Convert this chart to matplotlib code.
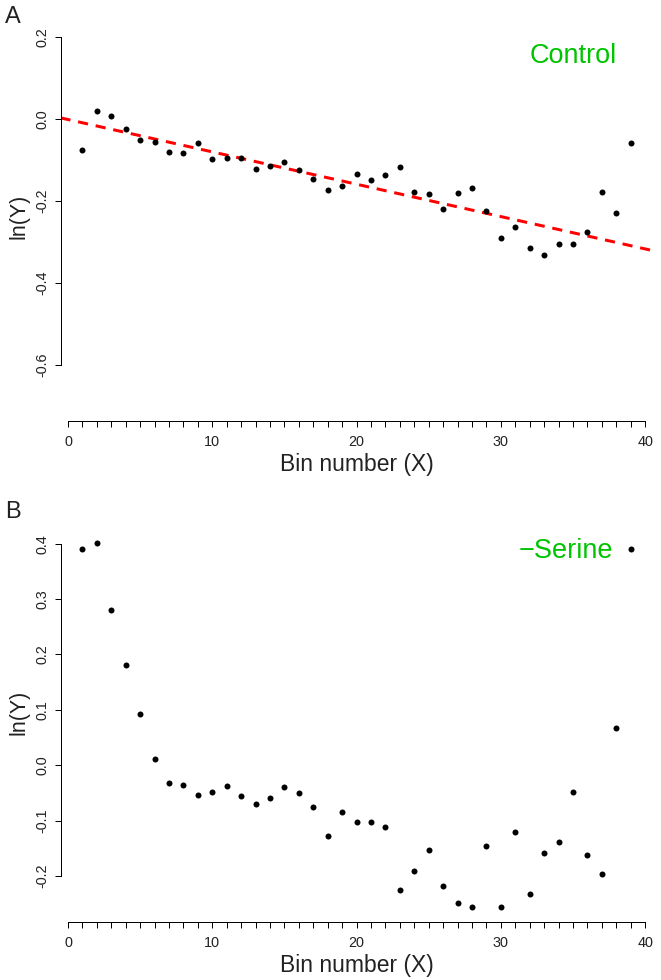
import matplotlib
matplotlib.use('Agg')
import matplotlib.pyplot as plt
from matplotlib.ticker import MultipleLocator, FixedLocator, FuncFormatter
import numpy as np

# ---------------- data ----------------
bins = list(range(1, 40))
control = [-0.075, 0.021, 0.007, -0.024, -0.050, -0.056, -0.079, -0.081, -0.057, -0.096,
           -0.095, -0.094, -0.121, -0.115, -0.104, -0.124, -0.146, -0.172, -0.163, -0.134,
           -0.149, -0.137, -0.116, -0.178, -0.182, -0.220, -0.180, -0.168, -0.225, -0.289,
           -0.262, -0.314, -0.332, -0.305, -0.305, -0.276, -0.178, -0.229, -0.058]
serine = [0.390, 0.402, 0.280, 0.181, 0.093, 0.012, -0.032, -0.036, -0.053, -0.048,
          -0.037, -0.056, -0.070, -0.060, -0.039, -0.050, -0.075, -0.127, -0.084, -0.103,
          -0.102, -0.112, -0.225, -0.191, -0.154, -0.219, -0.249, -0.256, -0.146, -0.256,
          -0.121, -0.232, -0.158, -0.139, -0.048, -0.163, -0.196, 0.067, 0.391]
fit_intercept = -0.0005
fit_slope = -0.0079
x_ticks = [0, 10, 20, 30, 40]
a_yticks = [-0.6, -0.4, -0.2, 0.0, 0.2]
b_yticks = [-0.2, -0.1, 0.0, 0.1, 0.2, 0.3, 0.4]
xlabel = "Bin number (X)"
ylabel = "ln(Y)"

plt.rcParams['font.family'] = ['Liberation Sans', 'DejaVu Sans']

W, H = 661, 980
fig = plt.figure(figsize=(W / 100, H / 100), dpi=100)
PX = 0.72  # points per pixel at 100 dpi


def px_axes(l, r, t, b):
    return fig.add_axes([l / W, 1 - b / H, (r - l) / W, (b - t) / H])


def ftext(x, y, s, **kw):
    fig.text(x / W, 1 - y / H, s, **kw)


green = '#00C400'
fmt = FuncFormatter(lambda v, p: f"{v:.1f}")


def style(ax, yticks, ylim):
    ax.set_xlim(-0.52, 40.52)
    ax.set_ylim(*ylim)
    for s in ['top', 'right']:
        ax.spines[s].set_visible(False)
    for s in ['left', 'bottom']:
        ax.spines[s].set_linewidth(1.0 * PX)
    ax.spines['left'].set_bounds(yticks[0], yticks[-1])
    ax.spines['bottom'].set_bounds(0, 40)
    ax.xaxis.set_major_locator(FixedLocator(x_ticks))
    ax.xaxis.set_minor_locator(MultipleLocator(1))
    ax.yaxis.set_major_locator(FixedLocator(yticks))
    ax.yaxis.set_major_formatter(fmt)
    ax.tick_params(axis='both', which='both', direction='out', length=6 * PX,
                   width=1.0 * PX, color='black', labelsize=10.4, labelcolor='#222222')
    ax.tick_params(axis='x', which='major', pad=8 * PX)
    ax.tick_params(axis='y', which='major', pad=5 * PX, labelrotation=90)
    for lab in ax.get_yticklabels():
        lab.set_va('center')
    ax.patch.set_alpha(0)


# ---------------- panel A ----------------
axA = px_axes(60.5, 652.7, 22.7, 420.7)
style(axA, a_yticks, (-0.736, 0.236))
xs = np.array(axA.get_xlim())
axA.plot(xs, fit_intercept + fit_slope * xs, color='#FF0000', lw=3 * PX,
         dashes=(3.4, 2.6), solid_capstyle='butt', dash_capstyle='butt', zorder=2)
axA.plot(bins, control, 'o', ms=6 * PX, color='black', mec='none', zorder=3)

# ---------------- panel B ----------------
axB = px_axes(60.5, 652.7, 525, 922)
style(axB, b_yticks, (-0.2831, 0.4337))
axB.plot(bins, serine, 'o', ms=6 * PX, color='black', mec='none', zorder=3)

# ---------------- texts ----------------
ftext(5, 22.7, "A", fontsize=17, ha='left', va='baseline', color='#222222')
ftext(5, 518.3, "B", fontsize=17, ha='left', va='baseline', color='#222222')
ftext(617, 63.3, "Control", fontsize=19.5, ha='right', va='baseline', color=green)
ftext(613.3, 558.3, "\u2212Serine", fontsize=19.5, ha='right', va='baseline', color=green)

ftext(19, 216.7, ylabel, fontsize=15.5, rotation=90, ha='center', va='center', color='#222222')
ftext(19, 712, ylabel, fontsize=15.5, rotation=90, ha='center', va='center', color='#222222')
ftext(356.6, 464, xlabel, fontsize=16.5, ha='center', va='center', color='#222222')
ftext(356.6, 965, xlabel, fontsize=16.5, ha='center', va='center', color='#222222')

fig.savefig('out.png', dpi=100)
